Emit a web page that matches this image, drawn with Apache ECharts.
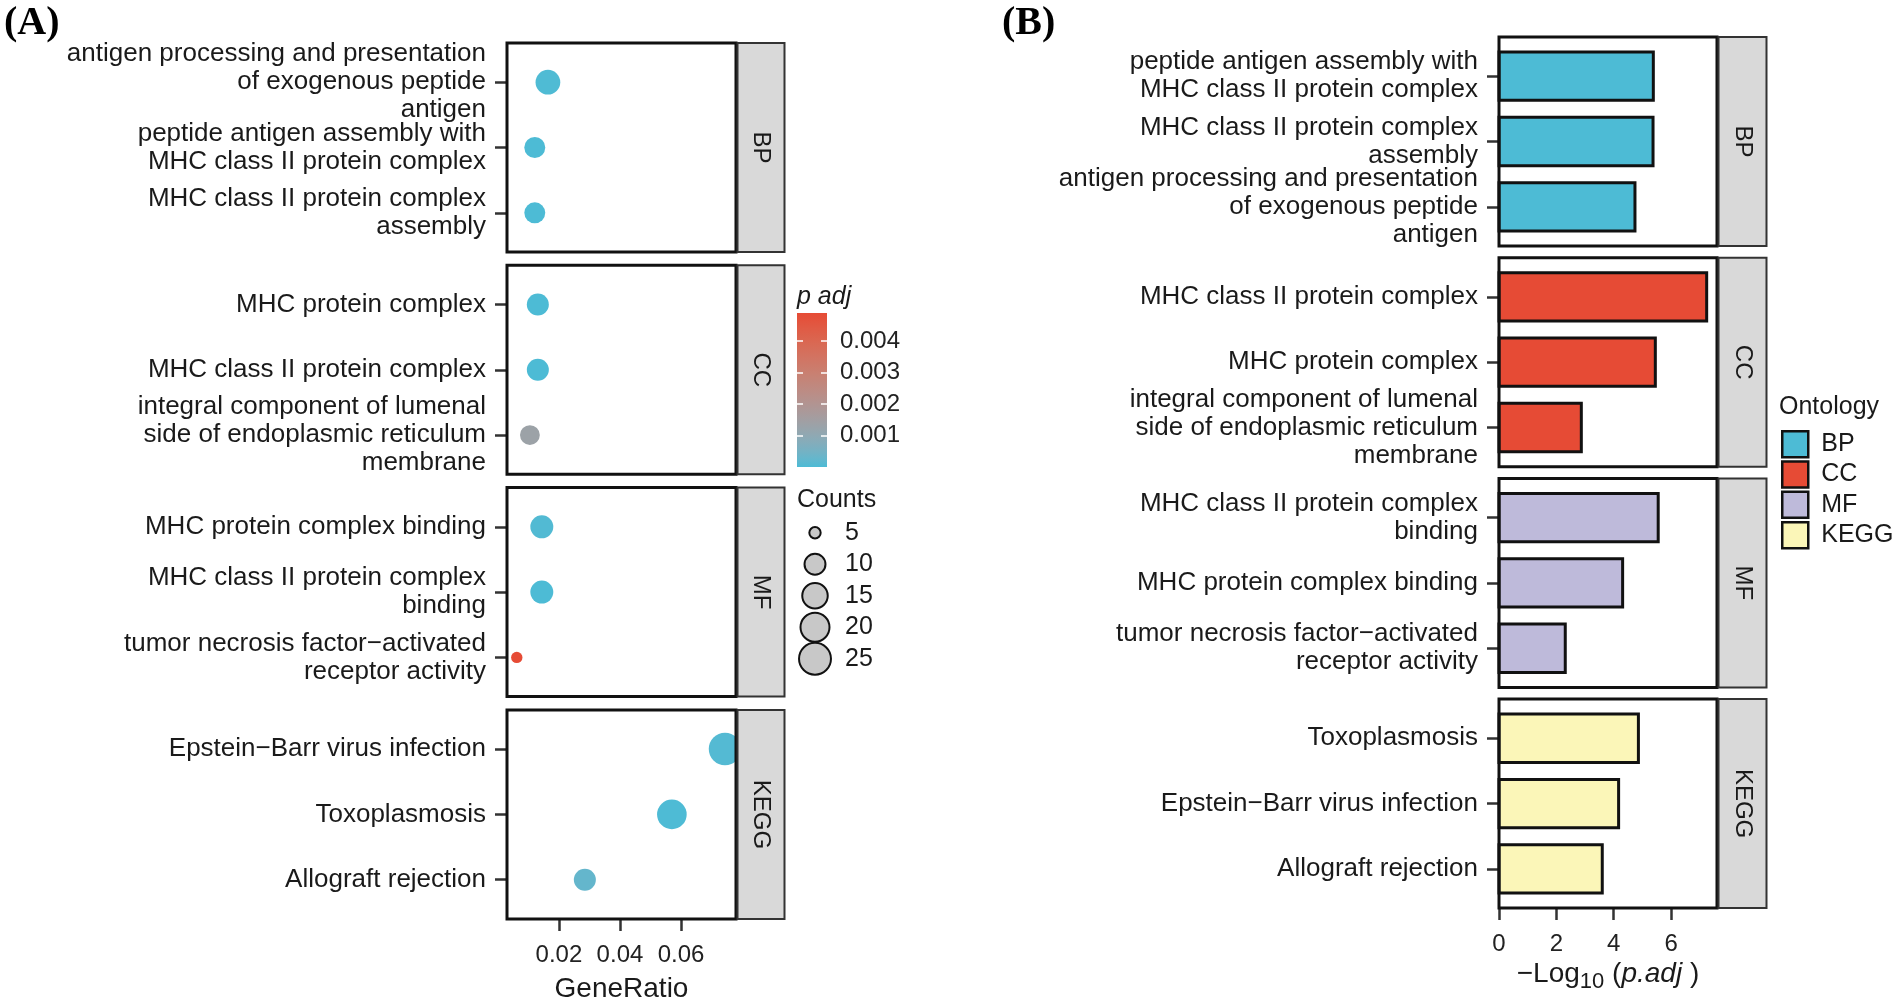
<!DOCTYPE html>
<html><head><meta charset="utf-8">
<script src="https://cdn.jsdelivr.net/npm/echarts@6/dist/echarts.min.js"></script>
<style>html,body{margin:0;padding:0;background:#fff}#c{width:1900px;height:1005px}</style>
</head><body><div id="c"></div>
<script>
// ---------------- DATA ----------------
const ontologies = ['BP', 'CC', 'MF', 'KEGG'];
// terms in the order of panel (A), grouped by ontology, top to bottom
const termNames = [
  'antigen processing and presentation\nof exogenous peptide\nantigen',
  'peptide antigen assembly with\nMHC class II protein complex',
  'MHC class II protein complex\nassembly',
  'MHC protein complex',
  'MHC class II protein complex',
  'integral component of lumenal\nside of endoplasmic reticulum\nmembrane',
  'MHC protein complex binding',
  'MHC class II protein complex\nbinding',
  'tumor necrosis factor\u2212activated\nreceptor activity',
  'Epstein\u2212Barr virus infection',
  'Toxoplasmosis',
  'Allograft rejection'
];
const termOntology = ['BP','BP','BP','CC','CC','CC','MF','MF','MF','KEGG','KEGG','KEGG'];
const geneRatio    = [0.0164, 0.0121, 0.0121, 0.0131, 0.0131, 0.0105, 0.0144, 0.0144, 0.0062, 0.0744, 0.0570, 0.0285];
const geneCount    = [14, 10, 10, 11, 11, 9, 12, 12, 5, 26, 21, 11];
const negLog10Padj = [4.74, 5.38, 5.37, 5.45, 7.24, 2.87, 4.31, 5.55, 2.31, 4.17, 4.86, 3.60];
// order of terms in panel (B), top to bottom
const orderB = [1, 2, 0, 4, 3, 5, 7, 6, 8, 10, 9, 11];
const ontologyColors = ['#4DBBD5', '#E64B35', '#BEBADA', '#FBF6B8'];
const ratioTicks = [0.02, 0.04, 0.06];
const logTicks = [0, 2, 4, 6];
const padjTicks = [0.001, 0.002, 0.003, 0.004];
const countBreaks = [5, 10, 15, 20, 25];
const padjLowColor = '#4DBBD5', padjHighColor = '#E64B35';

// ---------------- SCALES ----------------
const padj = negLog10Padj.map(v => Math.pow(10, -v));
const padjMax = Math.max(...padj);

function hexToRgb(h){ return [parseInt(h.slice(1,3),16), parseInt(h.slice(3,5),16), parseInt(h.slice(5,7),16)]; }
function s2l(c){ c/=255; return c<=0.04045 ? c/12.92 : Math.pow((c+0.055)/1.055, 2.4); }
function l2s(c){ c = c<=0.0031308 ? 12.92*c : 1.055*Math.pow(c,1/2.4)-0.055; return Math.round(Math.max(0,Math.min(1,c))*255); }
function rgbToLab(rgb){
  const [r,g,b] = rgb.map(s2l);
  const X=(0.4124*r+0.3576*g+0.1805*b)/0.95047, Y=0.2126*r+0.7152*g+0.0722*b, Z=(0.0193*r+0.1192*g+0.9505*b)/1.08883;
  const f = t => t>0.008856 ? Math.cbrt(t) : 7.787*t+16/116;
  const fx=f(X), fy=f(Y), fz=f(Z);
  return [116*fy-16, 500*(fx-fy), 200*(fy-fz)];
}
function labToRgb(lab){
  const [L,a,b] = lab; const fy=(L+16)/116, fx=fy+a/500, fz=fy-b/200;
  const inv = t => t>0.206893 ? t*t*t : (t-16/116)/7.787;
  const X=inv(fx)*0.95047, Y=inv(fy), Z=inv(fz)*1.08883;
  return [3.2406*X-1.5372*Y-0.4986*Z, -0.9689*X+1.8758*Y+0.0415*Z, 0.0557*X-0.2040*Y+1.0570*Z].map(l2s);
}
const labLo = rgbToLab(hexToRgb(padjLowColor)), labHi = rgbToLab(hexToRgb(padjHighColor));
function colorAt(t){
  t = Math.max(0, Math.min(1, t));
  const c = labToRgb([0,1,2].map(i => labLo[i] + (labHi[i]-labLo[i])*t));
  return 'rgb(' + c.join(',') + ')';
}
function padjColor(p){ return colorAt(p / padjMax); }
function sizeOf(n){ return 9.8 + 4.94*Math.sqrt(Math.max(0, n - 4.9)); }

// ---------------- LAYOUT ----------------
const FONT = "'Liberation Sans', Arial, Helvetica, sans-serif";
const SERIF = "'Liberation Serif', 'Times New Roman', serif";
const TXT = '#1a1a1a';
const LA = {left:507, width:229, top:43, pitch:222.3, height:209, stripW:47};
const LB = {left:1499, width:218, top:37, pitch:220.7, height:209, stripW:48};

const grids = [], xAxes = [], yAxes = [], series = [], graphics = [];

function panelTerms(k){ const idx=[]; termOntology.forEach((o,i)=>{ if(o===ontologies[k]) idx.push(i); }); return idx; }
function panelTermsB(k){ return orderB.filter(i => termOntology[i]===ontologies[k]); }

const tickStyle = {color:'#333', width:2.5};
// two overlapping left y-axes per panel (labels split so that tall wrapped labels are never auto-hidden)
function pushYAxes(g, names){
  const base = {type:'value', gridIndex:g, min:-0.6, max:2.6, inverse:true, position:'left', offset:0,
    axisLine:{show:false, onZero:false}, splitLine:{show:false}};
  const lab = vals => ({show:true, customValues:vals, formatter: v => names[Math.round(v)],
      hideOverlap:false, fontSize:26, lineHeight:28, color:TXT, fontFamily:FONT, margin:21, align:'right',
      padding:[4,0,0,0]});
  yAxes.push(Object.assign({}, base, {axisTick:{show:true, length:12, lineStyle:tickStyle, customValues:[0,1,2]}, axisLabel:lab([0,2])}));
  yAxes.push(Object.assign({}, base, {axisTick:{show:false}, axisLabel:lab([1])}));
  return yAxes.length - 2;
}

// Panel A
for (let k=0;k<4;k++){
  const top = LA.top + k*LA.pitch;
  grids.push({left:LA.left, top:top, width:LA.width, height:LA.height, outerBoundsMode:'none'});
  const last = k===3;
  xAxes.push({type:'value', gridIndex:k, min:0.003, max:0.078, position:'bottom',
    axisLine:{show:false, onZero:false}, splitLine:{show:false},
    axisTick:{show:last, length:12, lineStyle:tickStyle, customValues:ratioTicks},
    axisLabel:{show:last, customValues:ratioTicks, formatter: v => v.toFixed(2), fontSize:24, color:'#222', fontFamily:FONT, margin:24, hideOverlap:false},
    name: last ? 'GeneRatio' : '', nameLocation:'middle', nameGap:56,
    nameTextStyle:{fontSize:28, color:TXT, fontFamily:FONT}});
  const idx = panelTerms(k);
  const yi = pushYAxes(k, idx.map(i => termNames[i]));
  series.push({type:'scatter', xAxisIndex:k, yAxisIndex:yi, silent:true,
    data: idx.map((i,j) => [geneRatio[i], j, geneCount[i], padj[i]]),
    symbolSize: v => sizeOf(v[2]),
    itemStyle:{opacity:1, color: p => padjColor(p.value[3])}});
  graphics.push({type:'rect', z:100, shape:{x:LA.left, y:top, width:LA.width, height:LA.height}, style:{fill:'none', stroke:'#111', lineWidth:3}});
  graphics.push({type:'rect', z:100, shape:{x:LA.left+LA.width+1.5, y:top, width:LA.stripW, height:LA.height}, style:{fill:'#D9D9D9', stroke:'#333', lineWidth:2}});
  graphics.push({type:'text', z:101, x:LA.left+LA.width+1.5+LA.stripW/2, y:top+LA.height/2, rotation:-Math.PI/2,
    style:{text:ontologies[k], fill:TXT, fontSize:24, fontFamily:FONT, align:'center', verticalAlign:'middle'}});
}

// Panel B
for (let k=0;k<4;k++){
  const g = 4+k;
  const top = LB.top + k*LB.pitch;
  grids.push({left:LB.left, top:top, width:LB.width, height:LB.height, outerBoundsMode:'none'});
  const last = k===3;
  xAxes.push({type:'value', gridIndex:g, min:0, max:7.6, position:'bottom',
    axisLine:{show:false, onZero:false}, splitLine:{show:false},
    axisTick:{show:last, length:12, lineStyle:tickStyle, customValues:logTicks},
    axisLabel:{show:last, customValues:logTicks, fontSize:24, color:'#222', fontFamily:FONT, margin:24, hideOverlap:false},
    name: last ? '{a|\u2212Log}{s|10}{a| (}{i|p.adj}{a| )}' : '', nameLocation:'middle', nameGap:47,
    nameTextStyle:{fontSize:28, color:TXT, fontFamily:FONT,
      rich:{a:{fontSize:28, color:TXT, fontFamily:FONT},
            s:{fontSize:22, color:TXT, fontFamily:FONT, padding:[16,0,0,0]},
            i:{fontSize:28, color:TXT, fontFamily:FONT, fontStyle:'italic'}}}});
  const idx = panelTermsB(k);
  const yi = pushYAxes(g, idx.map(i => termNames[i]));
  const col = ontologyColors[k];
  series.push({type:'custom', name:ontologies[k], xAxisIndex:g, yAxisIndex:yi, silent:true,
    itemStyle:{color:col},
    data: idx.map((i,j) => [negLog10Padj[i], j]),
    encode:{x:0, y:1},
    renderItem:(params, api) => {
      const v = api.value(0), pos = api.value(1);
      const p0 = api.coord([0, pos]), p1 = api.coord([v, pos]);
      const h = api.size([0, 0.74])[1];
      return {type:'rect', shape:{x:p0[0], y:p0[1]-h/2, width:p1[0]-p0[0], height:h},
        style:{fill:col, stroke:'#111', lineWidth:3}};
    }});
  graphics.push({type:'rect', z:100, shape:{x:LB.left, y:top, width:LB.width, height:LB.height}, style:{fill:'none', stroke:'#111', lineWidth:3}});
  graphics.push({type:'rect', z:100, shape:{x:LB.left+LB.width+1.5, y:top, width:LB.stripW, height:LB.height}, style:{fill:'#D9D9D9', stroke:'#333', lineWidth:2}});
  graphics.push({type:'text', z:101, x:LB.left+LB.width+1.5+LB.stripW/2, y:top+LB.height/2, rotation:-Math.PI/2,
    style:{text:ontologies[k], fill:TXT, fontSize:24, fontFamily:FONT, align:'center', verticalAlign:'middle'}});
}

// Colour bar (p adj) : grid 8
grids.push({left:797, top:313, width:30, height:154, outerBoundsMode:'none'});
xAxes.push({type:'category', gridIndex:8, data:['p'], show:false});
const cbTick = {show:true, inside:true, length:6, lineStyle:{color:'#fff', width:1.5}, customValues:padjTicks};
yAxes.push({type:'value', gridIndex:8, min:0, max:padjMax, position:'right', z:10,
  axisLine:{show:false, onZero:false}, splitLine:{show:false}, axisTick:cbTick,
  axisLabel:{customValues:padjTicks, formatter: v => v.toFixed(3), fontSize:24, color:'#222', fontFamily:FONT, margin:13, hideOverlap:false}});
const cbAxis = yAxes.length - 1;
yAxes.push({type:'value', gridIndex:8, min:0, max:padjMax, position:'left', z:10,
  axisLine:{show:false, onZero:false}, splitLine:{show:false}, axisTick:cbTick, axisLabel:{show:false}});
const stops = []; for (let i=0;i<=20;i++) stops.push({offset:i/20, color:colorAt(1 - i/20)});
series.push({type:'bar', xAxisIndex:8, yAxisIndex:cbAxis, silent:true, barWidth:'100%', z:1,
  data:[padjMax], itemStyle:{color:{type:'linear', x:0, y:0, x2:0, y2:1, colorStops:stops}}});

// Size legend (Counts) : grid 9
grids.push({left:800, top:517, width:30, height:157.5, outerBoundsMode:'none'});
xAxes.push({type:'value', gridIndex:9, min:-1, max:1, show:false});
yAxes.push({type:'category', gridIndex:9, data:countBreaks.map(String), inverse:true, position:'right',
  axisLine:{show:false}, axisTick:{show:false}, splitLine:{show:false},
  axisLabel:{interval:0, hideOverlap:false, fontSize:25, color:TXT, fontFamily:FONT, margin:15, align:'left'}});
const cntAxis = yAxes.length - 1;
series.push({type:'scatter', xAxisIndex:9, yAxisIndex:cntAxis, silent:true,
  data: countBreaks.map(c => [0, String(c), c]),
  symbolSize: v => sizeOf(v[2]),
  itemStyle:{color:'#C8C8C8', borderColor:'#111', borderWidth:2, opacity:1}});

// Titles / legend titles
graphics.push({type:'text', x:4, y:24, style:{text:'(A)', fill:'#000', fontSize:40, fontWeight:'bold', fontFamily:SERIF, align:'left', verticalAlign:'middle'}});
graphics.push({type:'text', x:1002, y:24, style:{text:'(B)', fill:'#000', fontSize:40, fontWeight:'bold', fontFamily:SERIF, align:'left', verticalAlign:'middle'}});
graphics.push({type:'text', x:797, y:297, style:{text:'p adj', fill:TXT, fontSize:25, fontStyle:'italic', fontFamily:FONT, align:'left', verticalAlign:'middle'}});
graphics.push({type:'text', x:797, y:500, style:{text:'Counts', fill:TXT, fontSize:25, fontFamily:FONT, align:'left', verticalAlign:'middle'}});
graphics.push({type:'text', x:1779, y:407, style:{text:'Ontology', fill:TXT, fontSize:25, fontFamily:FONT, align:'left', verticalAlign:'middle'}});

const option = {
  animation:false,
  backgroundColor:'#fff',
  grid:grids, xAxis:xAxes, yAxis:yAxes, series:series,
  legend:{orient:'vertical', left:1776, top:425, itemWidth:26, itemHeight:26, itemGap:1.8, icon:'rect',
    selectedMode:false,
    data: ontologies.map((o,i) => ({name:o, itemStyle:{color:ontologyColors[i], borderColor:'#111', borderWidth:2.5}})),
    textStyle:{fontSize:25, color:TXT, fontFamily:FONT, padding:[0,0,0,8]}},
  graphic:graphics
};
const chart = echarts.init(document.getElementById('c'), null, {renderer:'canvas'});
chart.setOption(option);
</script></body></html>
